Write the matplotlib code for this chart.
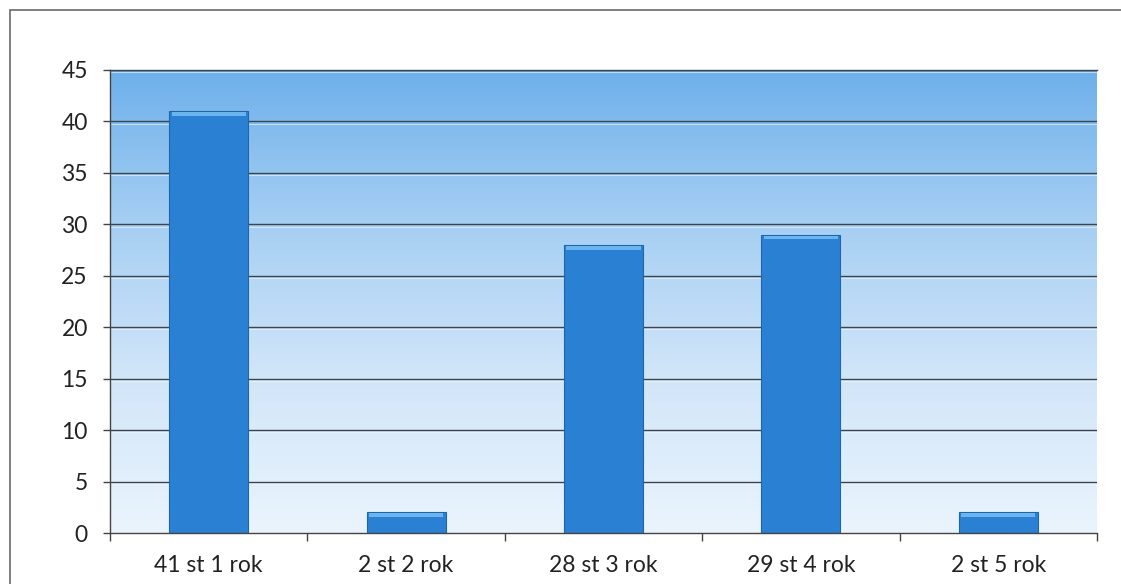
import matplotlib.pyplot as plt
import numpy as np
from matplotlib.colors import LinearSegmentedColormap
from matplotlib.patches import Rectangle

# data
categories = ['41 st 1 rok', '2 st 2 rok', '28 st 3 rok', '29 st 4 rok', '2 st 5 rok']
counts = [41, 2, 28, 29, 2]
y_ticks = [0, 5, 10, 15, 20, 25, 30, 35, 40, 45]

plt.rcParams['font.family'] = ['Lato', 'DejaVu Sans']

fig = plt.figure(figsize=(11.21, 5.84), dpi=100)
fig.patch.set_facecolor('white')

# outer frame of the chart (runs off the right and bottom of the scan)
fig.patches.append(Rectangle((10 / 1121, -0.05), 1.2, 1 - 10 / 584 + 0.05,
                             transform=fig.transFigure, fill=False,
                             edgecolor='#6a6a6a', linewidth=1.2))

ax = fig.add_axes([110 / 1121, 51 / 584, 987 / 1121, 463 / 584])

# gradient background, blue at top fading to near white at bottom
grad = LinearSegmentedColormap.from_list('bg', ['#eaf4fd', '#d2e6f9', '#a6cff3', '#6eb0eb'])
g = np.linspace(0, 1, 256).reshape(-1, 1)
ax.imshow(g, aspect='auto', cmap=grad, origin='lower',
          extent=[0, 1, 0, 1], transform=ax.transAxes, zorder=0)

x = np.arange(len(categories))
ax.set_xlim(-0.5, len(categories) - 0.5)
ax.set_ylim(0, 45)

# grid lines with a faint light line just under them
for t in y_ticks[1:]:
    ax.axhline(t, color='#3c4450', linewidth=1.0, zorder=1)
    ax.axhline(t - 0.22, color='#f4f8fc', linewidth=0.8, alpha=0.6, zorder=1)

bars = ax.bar(x, counts, width=0.4, color='#2a80d2', edgecolor='#1f66a8',
              linewidth=0.8, zorder=2)
# light bevel on top of each bar
for b, v in zip(bars, counts):
    ax.bar(b.get_x() + b.get_width() / 2, 0.35, bottom=v - 0.45, width=b.get_width() * 0.94,
           color='#6ab4f0', linewidth=0, zorder=3)

ax.set_yticks(y_ticks)
ax.set_yticklabels([str(t) for t in y_ticks], fontsize=16.5, color='#222222')
ax.set_xticks(x)
ax.set_xticklabels(categories, fontsize=16.5, color='#222222')
ax.tick_params(axis='x', length=0, pad=16)
ax.tick_params(axis='y', length=5, width=1, color='#444444', pad=11)
# category divider ticks below the axis
ax.set_xticks(np.arange(len(categories) + 1) - 0.5, minor=True)
ax.tick_params(axis='x', which='minor', length=6, width=1, color='#444444', direction='out')

ax.spines['right'].set_visible(False)
ax.spines['top'].set_color('#3c4450')
ax.spines['left'].set_color('#444444')
ax.spines['bottom'].set_color('#444444')
for s in ax.spines.values():
    s.set_linewidth(1.0)

fig.savefig('out.png', dpi=100)
